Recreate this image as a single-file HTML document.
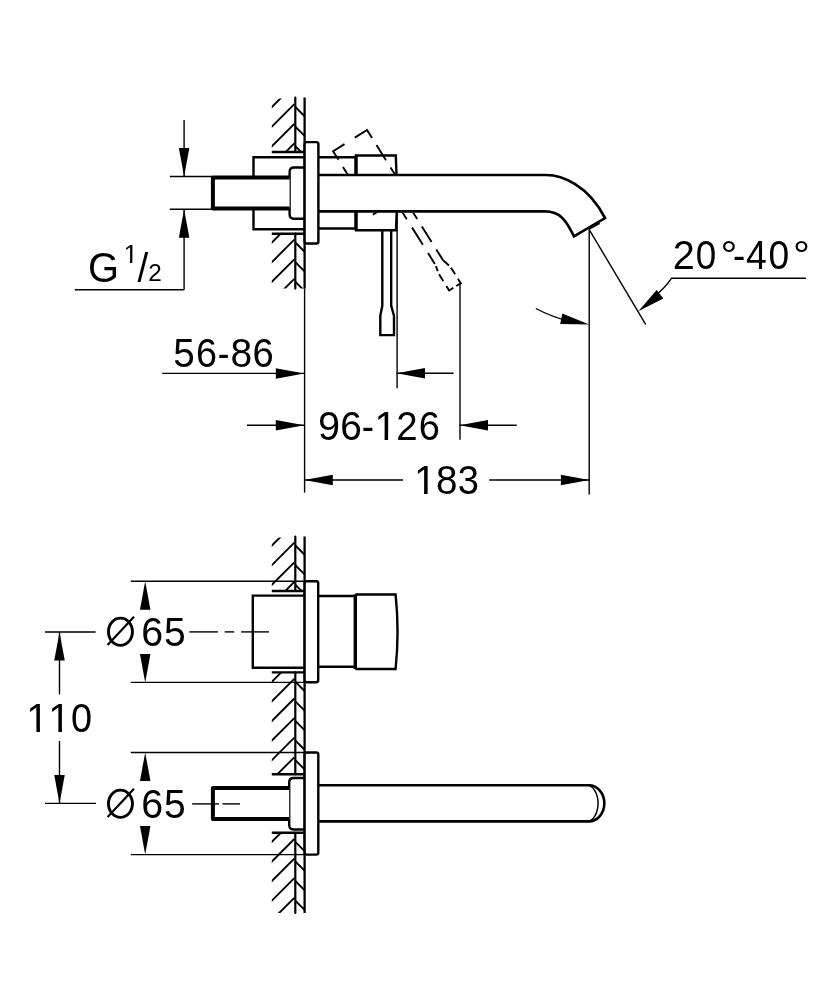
<!DOCTYPE html>
<html><head><meta charset="utf-8"><style>
html,body{margin:0;padding:0;background:#fff;width:834px;height:1000px;overflow:hidden}
svg{display:block;will-change:transform}
text{font-family:"Liberation Sans",sans-serif;fill:#000;stroke:none}
</style></head><body>
<svg width="834" height="1000" viewBox="0 0 834 1000" stroke="#000" fill="none" stroke-linecap="butt">
<clipPath id="c97o"><rect x="271.8" y="98.40" width="24.00" height="53.60"/></clipPath>
<clipPath id="c97i"><rect x="295.30" y="97.50" width="9.30" height="54.50"/></clipPath>
<g clip-path="url(#c97o)">
<line x1="294.30" y1="65.00" x2="268.80" y2="90.50" stroke-width="1.9" />
<line x1="294.30" y1="84.60" x2="268.80" y2="110.10" stroke-width="1.9" />
<line x1="294.30" y1="104.20" x2="268.80" y2="129.70" stroke-width="1.9" />
<line x1="294.30" y1="123.80" x2="268.80" y2="149.30" stroke-width="1.9" />
<line x1="294.30" y1="143.40" x2="268.80" y2="168.90" stroke-width="1.9" />
<line x1="294.30" y1="163.00" x2="268.80" y2="188.50" stroke-width="1.9" />
<line x1="294.30" y1="182.60" x2="268.80" y2="208.10" stroke-width="1.9" />
</g>
<g clip-path="url(#c97i)">
<line x1="295.30" y1="67.80" x2="304.60" y2="77.10" stroke-width="1.9" />
<line x1="295.30" y1="87.40" x2="304.60" y2="96.70" stroke-width="1.9" />
<line x1="295.30" y1="107.00" x2="304.60" y2="116.30" stroke-width="1.9" />
<line x1="295.30" y1="126.60" x2="304.60" y2="135.90" stroke-width="1.9" />
<line x1="295.30" y1="146.20" x2="304.60" y2="155.50" stroke-width="1.9" />
<line x1="295.30" y1="165.80" x2="304.60" y2="175.10" stroke-width="1.9" />
<line x1="295.30" y1="185.40" x2="304.60" y2="194.70" stroke-width="1.9" />
</g>
<line x1="295.30" y1="97.50" x2="295.30" y2="152.00" stroke-width="2.2" stroke-linecap="round"/>
<clipPath id="c233o"><rect x="271.8" y="234.60" width="24.00" height="54.00"/></clipPath>
<clipPath id="c233i"><rect x="295.30" y="233.70" width="9.30" height="54.90"/></clipPath>
<g clip-path="url(#c233o)">
<line x1="294.30" y1="200.50" x2="268.80" y2="226.00" stroke-width="1.9" />
<line x1="294.30" y1="220.10" x2="268.80" y2="245.60" stroke-width="1.9" />
<line x1="294.30" y1="239.70" x2="268.80" y2="265.20" stroke-width="1.9" />
<line x1="294.30" y1="259.30" x2="268.80" y2="284.80" stroke-width="1.9" />
<line x1="294.30" y1="278.90" x2="268.80" y2="304.40" stroke-width="1.9" />
<line x1="294.30" y1="298.50" x2="268.80" y2="324.00" stroke-width="1.9" />
<line x1="294.30" y1="318.10" x2="268.80" y2="343.60" stroke-width="1.9" />
</g>
<g clip-path="url(#c233i)">
<line x1="295.30" y1="203.30" x2="304.60" y2="212.60" stroke-width="1.9" />
<line x1="295.30" y1="222.90" x2="304.60" y2="232.20" stroke-width="1.9" />
<line x1="295.30" y1="242.50" x2="304.60" y2="251.80" stroke-width="1.9" />
<line x1="295.30" y1="262.10" x2="304.60" y2="271.40" stroke-width="1.9" />
<line x1="295.30" y1="281.70" x2="304.60" y2="291.00" stroke-width="1.9" />
<line x1="295.30" y1="301.30" x2="304.60" y2="310.60" stroke-width="1.9" />
<line x1="295.30" y1="320.90" x2="304.60" y2="330.20" stroke-width="1.9" />
</g>
<line x1="295.30" y1="233.70" x2="295.30" y2="288.60" stroke-width="2.2" stroke-linecap="round"/>
<line x1="271.80" y1="152.00" x2="304.60" y2="152.00" stroke-width="2.4" />
<line x1="271.80" y1="233.70" x2="304.60" y2="233.70" stroke-width="2.4" />
<line x1="304.60" y1="97.50" x2="304.60" y2="288.60" stroke-width="2.3" />
<line x1="304.60" y1="288.60" x2="304.60" y2="492.60" stroke-width="1.4" />
<rect x="304.6" y="142.1" width="13.8" height="101.4" rx="2" ry="2" fill="#fff" stroke-width="2.4"/>
<path d="M304.6,157.2 H253.5 V229.3 H304.6" stroke-width="2.4" fill="none" />
<path d="M304.6,167.5 H294 Q289.6,167.5 289.6,172 V214.3 Q289.6,218.7 294,218.7 H304.6" stroke-width="2.4" fill="none" />
<line x1="588.80" y1="229.30" x2="599.60" y2="223.30" stroke-width="1.8" />
<path d="M289.6,177.4 H212.9 V208.6 H289.6" stroke-width="4.0" fill="#fff" stroke-linejoin="round"/>
<line x1="318.40" y1="157.20" x2="356.00" y2="157.20" stroke-width="2.4" />
<line x1="318.40" y1="228.50" x2="356.00" y2="228.50" stroke-width="2.4" />
<path d="M356,175 V155.5 H395.8 L396.5,175" stroke-width="2.4" fill="none" />
<path d="M356,211.4 V230.3 H396 L396.7,211.4" stroke-width="2.4" fill="none" />
<line x1="356.00" y1="155.50" x2="356.00" y2="175.00" stroke-width="3.4" />
<line x1="356.00" y1="211.40" x2="356.00" y2="230.30" stroke-width="3.4" />
<path d="M318.4,175 H546 C562,175 588,185 605.1,218.1 L573.9,236.3 C566,220 560,211.4 545,211.4 H318.4" stroke-width="2.6" fill="none" />
<path d="M382.3,230.3 V305.8 L380.3,315.8 V335.1 H394 V315.8 L391.2,305.8 V230.3" stroke-width="2.4" fill="none" />
<clipPath id="spoutclip"><path d="M0,0 H834 V174 H0 Z M0,212.5 H834 V500 H0 Z"/></clipPath>
<g clip-path="url(#spoutclip)"><g transform="matrix(0.8472,-0.5313,0.5313,0.8472,-51.09,208.62)">
<path d="M356,230.3 V155.5 H396 V230.3 H391.2" stroke-width="1.9" fill="none" stroke-dasharray="23.5 12.1 24.1 8.2 17.9 8.6 19 9 19 9 19 9 19 9 19 9 19 9 20 8.4" stroke-dashoffset="-64.7"/>
<path d="M391.2,230.3 V305.8 L394,315.8 V335.1 H380.3 V315.8 L382.3,305.8 V230.3 H356" stroke-width="1.9" fill="none" stroke-dasharray="27.3 8.8 18.3 8.8 20.6 3.1 7.7 5.3 10.7 3.4 10.2 5.6 8.1 3.4 5.4 2.5 12.9 9.6 20.3 10 20 10 20 10"/>
</g></g>
<line x1="397.10" y1="211.40" x2="397.10" y2="388.20" stroke-width="1.4" />
<line x1="460.00" y1="283.00" x2="460.00" y2="439.80" stroke-width="1.4" />
<line x1="589.20" y1="229.60" x2="589.20" y2="494.40" stroke-width="1.4" />
<line x1="589.20" y1="229.60" x2="645.80" y2="324.60" stroke-width="1.4" />
<path d="M535.8,308.5 Q552,317 570,321.5" stroke-width="1.4" fill="none" />
<path d="M589.20,324.40 L560.19,324.11 L562.31,313.52 Z" fill="#000" stroke="none"/>
<path d="M805.9,278.2 H671.6 Q665,288 655,296" stroke-width="1.4" fill="none" />
<path d="M638.30,311.20 L656.67,290.03 L663.31,298.55 Z" fill="#000" stroke="none"/>
<line x1="184.10" y1="119.90" x2="184.10" y2="176.50" stroke-width="1.4" />
<path d="M184.10,176.50 L178.85,148.00 L189.35,148.00 Z" fill="#000" stroke="none"/>
<line x1="184.10" y1="209.20" x2="184.10" y2="289.70" stroke-width="1.4" />
<path d="M184.10,209.20 L189.35,237.70 L178.85,237.70 Z" fill="#000" stroke="none"/>
<line x1="74.80" y1="289.70" x2="184.10" y2="289.70" stroke-width="1.4" />
<line x1="169.80" y1="176.50" x2="212.50" y2="176.50" stroke-width="1.4" />
<line x1="169.80" y1="209.20" x2="212.50" y2="209.20" stroke-width="1.4" />
<line x1="162.20" y1="373.40" x2="304.30" y2="373.40" stroke-width="1.4" />
<path d="M304.30,373.40 L275.80,378.65 L275.80,368.15 Z" fill="#000" stroke="none"/>
<line x1="396.50" y1="373.30" x2="453.70" y2="373.30" stroke-width="1.4" />
<path d="M396.50,373.30 L425.00,368.05 L425.00,378.55 Z" fill="#000" stroke="none"/>
<line x1="247.00" y1="425.30" x2="304.30" y2="425.30" stroke-width="1.4" />
<path d="M304.30,425.30 L275.80,430.55 L275.80,420.05 Z" fill="#000" stroke="none"/>
<line x1="459.50" y1="425.30" x2="516.70" y2="425.30" stroke-width="1.4" />
<path d="M459.50,425.30 L488.00,420.05 L488.00,430.55 Z" fill="#000" stroke="none"/>
<line x1="304.30" y1="480.00" x2="403.00" y2="480.00" stroke-width="1.4" />
<path d="M304.30,480.00 L332.80,474.75 L332.80,485.25 Z" fill="#000" stroke="none"/>
<line x1="489.20" y1="480.00" x2="589.40" y2="480.00" stroke-width="1.4" />
<path d="M589.40,480.00 L560.90,485.25 L560.90,474.75 Z" fill="#000" stroke="none"/>
<clipPath id="c536o"><rect x="271.8" y="537.40" width="24.00" height="53.60"/></clipPath>
<clipPath id="c536i"><rect x="295.30" y="536.50" width="9.30" height="54.50"/></clipPath>
<g clip-path="url(#c536o)">
<line x1="294.30" y1="503.50" x2="268.80" y2="529.00" stroke-width="1.9" />
<line x1="294.30" y1="523.10" x2="268.80" y2="548.60" stroke-width="1.9" />
<line x1="294.30" y1="542.70" x2="268.80" y2="568.20" stroke-width="1.9" />
<line x1="294.30" y1="562.30" x2="268.80" y2="587.80" stroke-width="1.9" />
<line x1="294.30" y1="581.90" x2="268.80" y2="607.40" stroke-width="1.9" />
<line x1="294.30" y1="601.50" x2="268.80" y2="627.00" stroke-width="1.9" />
<line x1="294.30" y1="621.10" x2="268.80" y2="646.60" stroke-width="1.9" />
</g>
<g clip-path="url(#c536i)">
<line x1="295.30" y1="506.30" x2="304.60" y2="515.60" stroke-width="1.9" />
<line x1="295.30" y1="525.90" x2="304.60" y2="535.20" stroke-width="1.9" />
<line x1="295.30" y1="545.50" x2="304.60" y2="554.80" stroke-width="1.9" />
<line x1="295.30" y1="565.10" x2="304.60" y2="574.40" stroke-width="1.9" />
<line x1="295.30" y1="584.70" x2="304.60" y2="594.00" stroke-width="1.9" />
<line x1="295.30" y1="604.30" x2="304.60" y2="613.60" stroke-width="1.9" />
<line x1="295.30" y1="623.90" x2="304.60" y2="633.20" stroke-width="1.9" />
</g>
<line x1="295.30" y1="536.50" x2="295.30" y2="591.00" stroke-width="2.2" stroke-linecap="round"/>
<clipPath id="c672o"><rect x="271.8" y="673.30" width="24.00" height="100.90"/></clipPath>
<clipPath id="c672i"><rect x="295.30" y="672.40" width="9.30" height="101.80"/></clipPath>
<g clip-path="url(#c672o)">
<line x1="294.30" y1="639.70" x2="268.80" y2="665.20" stroke-width="1.9" />
<line x1="294.30" y1="659.30" x2="268.80" y2="684.80" stroke-width="1.9" />
<line x1="294.30" y1="678.90" x2="268.80" y2="704.40" stroke-width="1.9" />
<line x1="294.30" y1="698.50" x2="268.80" y2="724.00" stroke-width="1.9" />
<line x1="294.30" y1="718.10" x2="268.80" y2="743.60" stroke-width="1.9" />
<line x1="294.30" y1="737.70" x2="268.80" y2="763.20" stroke-width="1.9" />
<line x1="294.30" y1="757.30" x2="268.80" y2="782.80" stroke-width="1.9" />
<line x1="294.30" y1="776.90" x2="268.80" y2="802.40" stroke-width="1.9" />
<line x1="294.30" y1="796.50" x2="268.80" y2="822.00" stroke-width="1.9" />
</g>
<g clip-path="url(#c672i)">
<line x1="295.30" y1="642.50" x2="304.60" y2="651.80" stroke-width="1.9" />
<line x1="295.30" y1="662.10" x2="304.60" y2="671.40" stroke-width="1.9" />
<line x1="295.30" y1="681.70" x2="304.60" y2="691.00" stroke-width="1.9" />
<line x1="295.30" y1="701.30" x2="304.60" y2="710.60" stroke-width="1.9" />
<line x1="295.30" y1="720.90" x2="304.60" y2="730.20" stroke-width="1.9" />
<line x1="295.30" y1="740.50" x2="304.60" y2="749.80" stroke-width="1.9" />
<line x1="295.30" y1="760.10" x2="304.60" y2="769.40" stroke-width="1.9" />
<line x1="295.30" y1="779.70" x2="304.60" y2="789.00" stroke-width="1.9" />
<line x1="295.30" y1="799.30" x2="304.60" y2="808.60" stroke-width="1.9" />
</g>
<line x1="295.30" y1="672.40" x2="295.30" y2="774.20" stroke-width="2.2" stroke-linecap="round"/>
<clipPath id="c832o"><rect x="271.8" y="833.70" width="24.00" height="79.30"/></clipPath>
<clipPath id="c832i"><rect x="295.30" y="832.80" width="9.30" height="80.20"/></clipPath>
<g clip-path="url(#c832o)">
<line x1="294.30" y1="799.80" x2="268.80" y2="825.30" stroke-width="1.9" />
<line x1="294.30" y1="819.40" x2="268.80" y2="844.90" stroke-width="1.9" />
<line x1="294.30" y1="839.00" x2="268.80" y2="864.50" stroke-width="1.9" />
<line x1="294.30" y1="858.60" x2="268.80" y2="884.10" stroke-width="1.9" />
<line x1="294.30" y1="878.20" x2="268.80" y2="903.70" stroke-width="1.9" />
<line x1="294.30" y1="897.80" x2="268.80" y2="923.30" stroke-width="1.9" />
<line x1="294.30" y1="917.40" x2="268.80" y2="942.90" stroke-width="1.9" />
<line x1="294.30" y1="937.00" x2="268.80" y2="962.50" stroke-width="1.9" />
</g>
<g clip-path="url(#c832i)">
<line x1="295.30" y1="802.60" x2="304.60" y2="811.90" stroke-width="1.9" />
<line x1="295.30" y1="822.20" x2="304.60" y2="831.50" stroke-width="1.9" />
<line x1="295.30" y1="841.80" x2="304.60" y2="851.10" stroke-width="1.9" />
<line x1="295.30" y1="861.40" x2="304.60" y2="870.70" stroke-width="1.9" />
<line x1="295.30" y1="881.00" x2="304.60" y2="890.30" stroke-width="1.9" />
<line x1="295.30" y1="900.60" x2="304.60" y2="909.90" stroke-width="1.9" />
<line x1="295.30" y1="920.20" x2="304.60" y2="929.50" stroke-width="1.9" />
<line x1="295.30" y1="939.80" x2="304.60" y2="949.10" stroke-width="1.9" />
</g>
<line x1="295.30" y1="832.80" x2="295.30" y2="913.00" stroke-width="2.2" stroke-linecap="round"/>
<line x1="271.80" y1="591.00" x2="304.60" y2="591.00" stroke-width="2.4" />
<line x1="271.80" y1="672.40" x2="304.60" y2="672.40" stroke-width="2.4" />
<line x1="271.80" y1="774.20" x2="304.60" y2="774.20" stroke-width="2.4" />
<line x1="271.80" y1="832.80" x2="304.60" y2="832.80" stroke-width="2.4" />
<line x1="304.60" y1="536.50" x2="304.60" y2="913.00" stroke-width="2.3" />
<line x1="130.80" y1="581.20" x2="304.60" y2="581.20" stroke-width="1.4" />
<line x1="130.80" y1="682.40" x2="304.60" y2="682.40" stroke-width="1.4" />
<line x1="130.80" y1="752.50" x2="304.60" y2="752.50" stroke-width="1.4" />
<line x1="130.80" y1="854.60" x2="304.60" y2="854.60" stroke-width="1.4" />
<rect x="304.6" y="581.2" width="13.6" height="101.0" rx="2" ry="2" fill="#fff" stroke-width="2.4"/>
<path d="M304.6,595.6 H252.8 V667.8 H304.6" stroke-width="2.4" fill="none" />
<line x1="318.20" y1="596.00" x2="355.30" y2="596.00" stroke-width="2.4" />
<line x1="318.20" y1="666.70" x2="355.30" y2="666.70" stroke-width="2.4" />
<path d="M355.3,594.5 H395.6 Q399.5,631.7 395.6,669 H355.3" stroke-width="2.4" fill="none" />
<line x1="355.30" y1="594.50" x2="355.30" y2="669.00" stroke-width="3.4" />
<line x1="189.30" y1="631.90" x2="217.90" y2="631.90" stroke-width="1.4" />
<line x1="224.70" y1="631.90" x2="234.10" y2="631.90" stroke-width="1.4" />
<line x1="241.10" y1="631.90" x2="269.00" y2="631.90" stroke-width="1.4" />
<rect x="304.6" y="752.5" width="13.7" height="102.1" rx="2" ry="2" fill="#fff" stroke-width="2.4"/>
<path d="M304.6,778 H293.5 Q289.2,778 289.2,782.5 V825 Q289.2,829.5 293.5,829.5 H304.6" stroke-width="2.4" fill="none" />
<path d="M289.2,787.9 H212.9 V819.0 H289.2" stroke-width="4.0" fill="#fff" stroke-linejoin="round"/>
<line x1="192.10" y1="803.90" x2="219.00" y2="803.90" stroke-width="1.4" />
<line x1="222.40" y1="803.90" x2="240.00" y2="803.90" stroke-width="1.4" />
<path d="M318.3,785.3 H589 A15.3,18 0 0 1 589,821.4 H318.3" stroke-width="2.6" fill="none" />
<path d="M587,785.3 A11,18 0 0 1 587,821.4" stroke-width="1.5" fill="none" />
<line x1="45.00" y1="632.00" x2="95.60" y2="632.00" stroke-width="1.4" />
<line x1="45.00" y1="803.40" x2="96.00" y2="803.40" stroke-width="1.4" />
<line x1="59.50" y1="632.00" x2="59.50" y2="694.40" stroke-width="1.4" />
<path d="M59.50,632.00 L64.75,660.50 L54.25,660.50 Z" fill="#000" stroke="none"/>
<line x1="59.50" y1="741.00" x2="59.50" y2="803.40" stroke-width="1.4" />
<path d="M59.50,803.40 L54.25,774.90 L64.75,774.90 Z" fill="#000" stroke="none"/>
<path d="M145.20,581.20 L150.45,609.70 L139.95,609.70 Z" fill="#000" stroke="none"/>
<path d="M145.20,682.40 L139.95,653.90 L150.45,653.90 Z" fill="#000" stroke="none"/>
<path d="M145.20,752.50 L150.45,781.00 L139.95,781.00 Z" fill="#000" stroke="none"/>
<path d="M145.20,854.60 L139.95,826.10 L150.45,826.10 Z" fill="#000" stroke="none"/>
<text x="0" y="0" font-size="40.2" transform="translate(173.25,366.6) scale(0.965,1)">5</text>
<text x="0" y="0" font-size="40.2" transform="translate(195.99,366.6) scale(0.938,1)">6</text>
<text x="0" y="0" font-size="40.2" transform="translate(217.63,366.6) scale(0.876,1)">-</text>
<text x="0" y="0" font-size="40.2" transform="translate(230.41,366.6) scale(0.970,1)">8</text>
<text x="0" y="0" font-size="40.2" transform="translate(252.46,366.6) scale(0.949,1)">6</text>
<text x="0" y="0" font-size="40.2" transform="translate(318.04,440.1) scale(0.986,1)">9</text>
<text x="0" y="0" font-size="40.2" transform="translate(340.13,440.1) scale(0.965,1)">6</text>
<text x="0" y="0" font-size="40.2" transform="translate(361.86,440.1) scale(0.917,1)">-</text>
<clipPath id="one3744_440"><path d="M-5,-40.2 H40.2 V-3.00 H13.66 V5 H10.11 V-3.00 H-5 Z"/></clipPath>
<text x="0" y="0" font-size="40.2" transform="translate(374.44,440.1) scale(1.000,1)" clip-path="url(#one3744_440)">1</text>
<text x="0" y="0" font-size="40.2" transform="translate(396.27,440.1) scale(0.956,1)">2</text>
<text x="0" y="0" font-size="40.2" transform="translate(418.87,440.1) scale(0.943,1)">6</text>
<clipPath id="one4139_493"><path d="M-5,-40.2 H40.2 V-3.00 H13.66 V5 H10.11 V-3.00 H-5 Z"/></clipPath>
<text x="0" y="0" font-size="40.2" transform="translate(413.94,493.9) scale(1.000,1)" clip-path="url(#one4139_493)">1</text>
<text x="0" y="0" font-size="40.2" transform="translate(436.12,493.9) scale(0.960,1)">8</text>
<text x="0" y="0" font-size="40.2" transform="translate(457.75,493.9) scale(0.950,1)">3</text>
<text x="0" y="0" font-size="40.2" transform="translate(672.80,268.6) scale(0.988,1)">2</text>
<text x="0" y="0" font-size="40.2" transform="translate(695.66,268.6) scale(0.916,1)">0</text>
<text x="0" y="0" font-size="40.2" transform="translate(720.59,268.6) scale(1.047,1)">°</text>
<text x="0" y="0" font-size="40.2" transform="translate(732.96,268.6) scale(0.917,1)">-</text>
<text x="0" y="0" font-size="40.2" transform="translate(746.04,268.6) scale(0.928,1)">4</text>
<text x="0" y="0" font-size="40.2" transform="translate(768.55,268.6) scale(0.926,1)">0</text>
<text x="0" y="0" font-size="40.2" transform="translate(793.07,268.6) scale(1.056,1)">°</text>
<clipPath id="one262_731"><path d="M-5,-40.2 H40.2 V-3.00 H13.66 V5 H10.11 V-3.00 H-5 Z"/></clipPath>
<text x="0" y="0" font-size="40.2" transform="translate(26.29,731.9) scale(1.000,1)" clip-path="url(#one262_731)">1</text>
<clipPath id="one482_731"><path d="M-5,-40.2 H40.2 V-3.00 H13.66 V5 H10.11 V-3.00 H-5 Z"/></clipPath>
<text x="0" y="0" font-size="40.2" transform="translate(48.29,731.9) scale(1.000,1)" clip-path="url(#one482_731)">1</text>
<text x="0" y="0" font-size="40.2" transform="translate(70.92,731.9) scale(0.942,1)">0</text>
<ellipse cx="120.45" cy="631.75" rx="12.0" ry="13.6" stroke-width="2.9"/>
<line x1="107.60" y1="645.00" x2="134.00" y2="616.80" stroke-width="2.2" />
<text x="0" y="0" font-size="40.2" transform="translate(141.30,646.4) scale(0.981,1)">6</text>
<text x="0" y="0" font-size="40.2" transform="translate(163.94,646.4) scale(0.971,1)">5</text>
<ellipse cx="120.45" cy="803.75" rx="12.0" ry="13.6" stroke-width="2.9"/>
<line x1="107.60" y1="817.00" x2="134.00" y2="788.80" stroke-width="2.2" />
<text x="0" y="0" font-size="40.2" transform="translate(141.30,818.4) scale(0.981,1)">6</text>
<text x="0" y="0" font-size="40.2" transform="translate(163.94,818.4) scale(0.971,1)">5</text>
<text x="0" y="0" font-size="40.2" transform="translate(88.00,281.9) scale(0.991,1.07)">G</text>
<clipPath id="one1234_262"><path d="M-5,-26.2 H26.2 V-1.96 H8.90 V5 H6.59 V-1.96 H-5 Z"/></clipPath>
<text x="0" y="0" font-size="26.2" transform="translate(123.44,262.6) scale(1.000,1)" clip-path="url(#one1234_262)">1</text>
<text x="0" y="0" font-size="40.2" transform="translate(137.50,281.9) scale(0.958,1)">/</text>
<text x="0" y="0" font-size="24.6" transform="translate(148.27,281.3) scale(0.990,1)">2</text>
</svg>
</body></html>
